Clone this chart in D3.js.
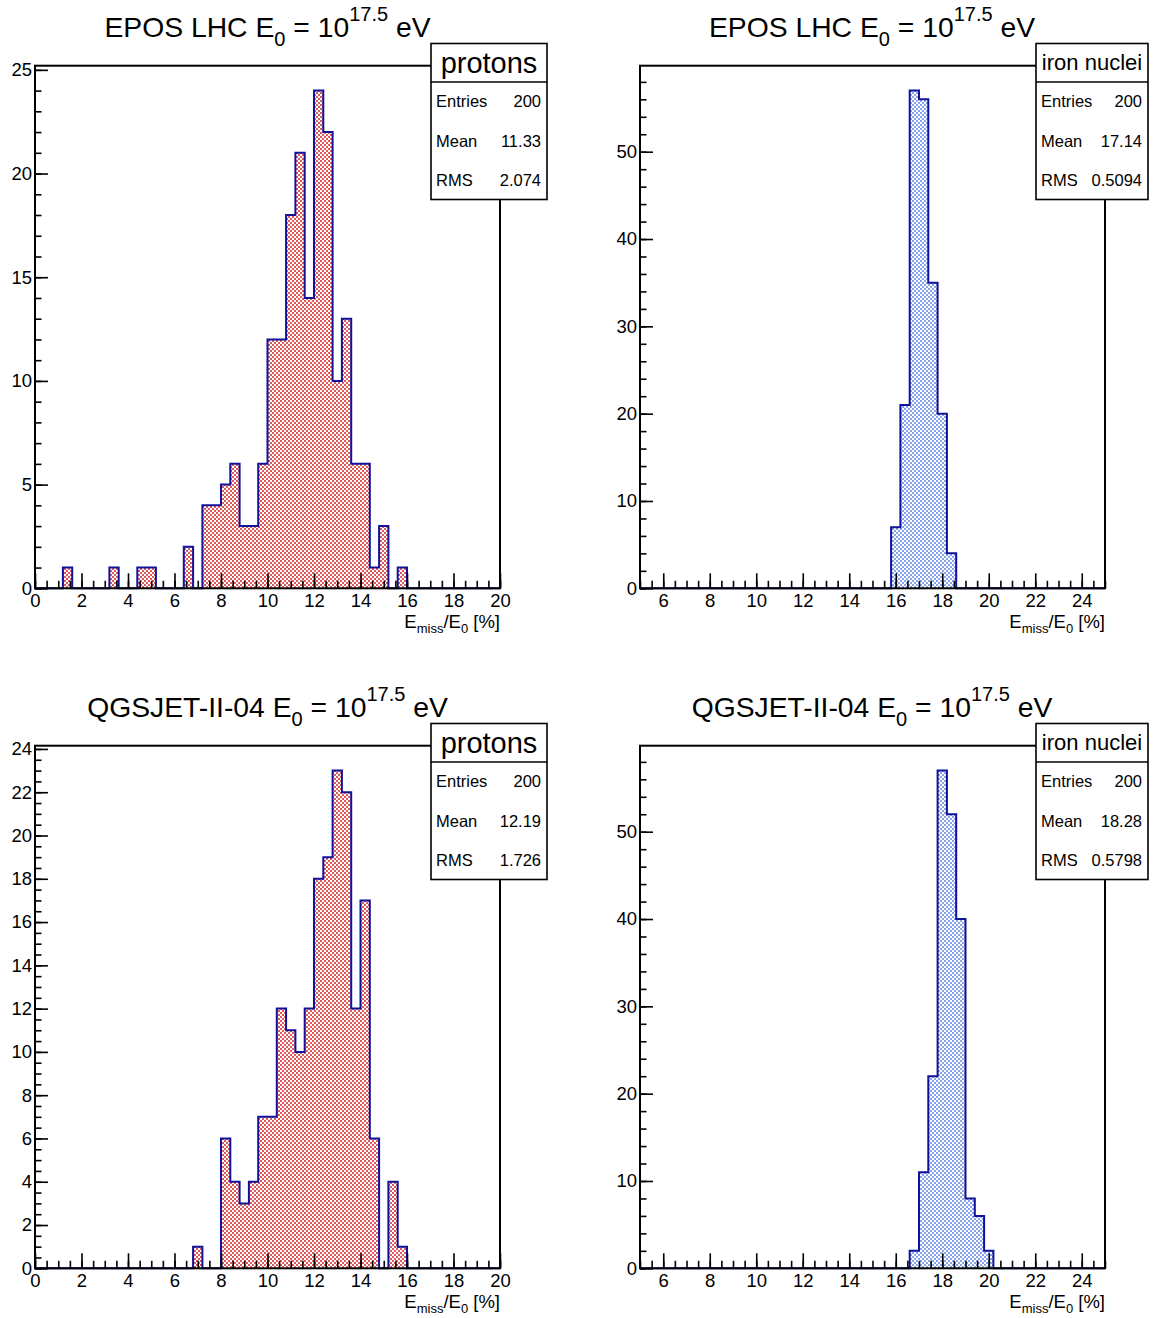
<!DOCTYPE html>
<html>
<head>
<meta charset="utf-8">
<script src="https://cdn.jsdelivr.net/npm/d3@7"></script>
<style>
  body { margin: 0; background: #fff; }
  svg { font-family: "Liberation Sans", Arial, sans-serif; }
</style>
</head>
<body>
<script>
// histogram bins are 0.4 % wide; protons start at 0, iron at 5
var binWidth = 0.4;
var protonRange = [0, 20];
var ironRange = [5, 25];

var eposProtonCounts = [0,0,0,1,0, 0,0,0,1,0, 0,1,1,0,0, 0,2,0,4,4,
                        5,6,3,3,6, 12,12,18,21,14, 24,22,10,13,6, 6,1,3,0,1,
                        0,0,0,0,0, 0,0,0,0,0];
var eposIronCounts = [0,0,0,0,0, 0,0,0,0,0, 0,0,0,0,0, 0,0,0,0,0,
                      0,0,0,0,0, 0,0,7,21,57, 56,35,20,4,0, 0,0,0,0,0,
                      0,0,0,0,0, 0,0,0,0,0];
var qgsProtonCounts = [0,0,0,0,0, 0,0,0,0,0, 0,0,0,0,0, 0,0,1,0,0,
                       6,4,3,4,7, 7,12,11,10,12, 18,19,23,22,12, 17,6,0,4,1,
                       0,0,0,0,0, 0,0,0,0,0];
var qgsIronCounts = [0,0,0,0,0, 0,0,0,0,0, 0,0,0,0,0, 0,0,0,0,0,
                     0,0,0,0,0, 0,0,0,0,2, 11,22,57,52,40, 8,6,2,0,0,
                     0,0,0,0,0, 0,0,0,0,0];

var models = ["EPOS LHC", "EPOS LHC", "QGSJET-II-04", "QGSJET-II-04"];
var particles = ["protons", "iron nuclei", "protons", "iron nuclei"];
var statEntries = ["200", "200", "200", "200"];
var statMean = ["11.33", "17.14", "12.19", "18.28"];
var statRMS = ["2.074", "0.5094", "1.726", "0.5798"];

var protonXTicks = [0, 2, 4, 6, 8, 10, 12, 14, 16, 18, 20];
var ironXTicks = [6, 8, 10, 12, 14, 16, 18, 20, 22, 24];
var eposProtonYTicks = [0, 5, 10, 15, 20, 25];
var qgsProtonYTicks = [0, 2, 4, 6, 8, 10, 12, 14, 16, 18, 20, 22, 24];
var ironYTicks = [0, 10, 20, 30, 40, 50];

function main() {
    var width = 1162, height = 1318;
    var svg = d3.select("body").append("svg")
        .attr("width", width).attr("height", height);

    var defs = svg.append("defs");
    function checker(id, col) {
        var p = defs.append("pattern").attr("id", id)
            .attr("patternUnits", "userSpaceOnUse")
            .attr("width", 4).attr("height", 4);
        p.append("rect").attr("width", 4).attr("height", 4).attr("fill", "#fff");
        p.append("rect").attr("width", 2).attr("height", 2).attr("fill", col);
        p.append("rect").attr("x", 2).attr("y", 2).attr("width", 2).attr("height", 2).attr("fill", col);
    }
    checker("redChk", "#de5a5a");
    checker("blueChk", "#8aa4ea");

    var panels = [
        { counts: eposProtonCounts, range: protonRange, xt: protonXTicks, yt: eposProtonYTicks, yMinor: 1, fill: "redChk" },
        { counts: eposIronCounts, range: ironRange, xt: ironXTicks, yt: ironYTicks, yMinor: 2, fill: "blueChk" },
        { counts: qgsProtonCounts, range: protonRange, xt: protonXTicks, yt: qgsProtonYTicks, yMinor: 0.5, fill: "redChk" },
        { counts: qgsIronCounts, range: ironRange, xt: ironXTicks, yt: ironYTicks, yMinor: 2, fill: "blueChk" }
    ];

    var colX = [[35, 500], [640, 1105]];
    var boxX = [[431, 547], [1036, 1148]];
    var titleX = [267.5, 872];
    var rowOff = 680;

    panels.forEach(function(p, i) {
        var col = i % 2, row = Math.floor(i / 2);
        var off = row * rowOff;
        var top = 65.7 + off, bottom = 588.3 + off;
        var left = colX[col][0], right = colX[col][1];
        var g = svg.append("g");

        var x = d3.scaleLinear().domain(p.range).range([left, right]);
        var ymax = d3.max(p.counts) * 1.05;
        var y = d3.scaleLinear().domain([0, ymax]).range([bottom, top]);

        // histogram steps
        var pts = [];
        p.counts.forEach(function(c, k) {
            var lo = p.range[0] + k * binWidth;
            pts.push([lo, c]);
            pts.push([lo + binWidth, c]);
        });
        var area = d3.area()
            .x(function(d) { return x(d[0]); })
            .y0(y(0))
            .y1(function(d) { return y(d[1]); });
        var line = d3.line()
            .x(function(d) { return x(d[0]); })
            .y(function(d) { return y(d[1]); });
        g.append("path").datum(pts).attr("d", area).attr("fill", "url(#" + p.fill + ")");
        g.append("path").datum(pts).attr("d", line)
            .attr("fill", "none").attr("stroke", "#10129a").attr("stroke-width", 2);

        // axes, ticks pointing inward
        var minorX = d3.range(p.range[0], p.range[1] + 0.001, 0.5);
        var minorY = d3.range(0, ymax, p.yMinor);

        var xa = g.append("g").attr("transform", "translate(0," + bottom + ")");
        xa.call(d3.axisBottom(x).tickValues(minorX).tickSize(-7.5).tickFormat(""));
        xa.append("g").call(d3.axisBottom(x).tickValues(p.xt).tickSize(-15).tickPadding(6));

        var ya = g.append("g").attr("transform", "translate(" + left + ",0)");
        ya.call(d3.axisLeft(y).tickValues(minorY).tickSize(-6.5).tickFormat(""));
        ya.append("g").call(d3.axisLeft(y).tickValues(p.yt).tickSize(-13).tickPadding(3));

        g.selectAll(".domain").remove();
        g.selectAll(".tick line").attr("stroke", "#000").attr("stroke-width", 1.6);
        g.selectAll(".tick text").attr("font-size", "18.5px").attr("fill", "#000")
            .attr("font-family", "'Liberation Sans', Arial, sans-serif");

        // frame
        g.append("rect").attr("x", left).attr("y", top)
            .attr("width", right - left).attr("height", bottom - top)
            .attr("fill", "none").attr("stroke", "#000").attr("stroke-width", 2);

        // title
        var t = g.append("text").attr("x", titleX[col]).attr("y", 37 + off)
            .attr("text-anchor", "middle").attr("font-size", "28.3px").attr("fill", "#000");
        t.append("tspan").text(models[i] + " E");
        t.append("tspan").attr("dy", 9).attr("font-size", "20px").text("0");
        t.append("tspan").attr("dy", -9).text(" = 10");
        t.append("tspan").attr("dy", -16).attr("font-size", "20px").text("17.5");
        t.append("tspan").attr("dy", 16).text(" eV");

        // x title
        var xt = g.append("text").attr("x", right).attr("y", bottom + 40)
            .attr("text-anchor", "end").attr("font-size", "18.5px").attr("fill", "#000");
        xt.append("tspan").text("E");
        xt.append("tspan").attr("dy", 5).attr("font-size", "13px").text("miss");
        xt.append("tspan").attr("dy", -5).text("/E");
        xt.append("tspan").attr("dy", 5).attr("font-size", "13px").text("0");
        xt.append("tspan").attr("dy", -5).text(" [%]");

        // stats box
        var bx0 = boxX[col][0], bx1 = boxX[col][1];
        var by0 = 43.5 + off, byDiv = 82 + off, by1 = 199.5 + off;
        g.append("rect").attr("x", bx0).attr("y", by0)
            .attr("width", bx1 - bx0).attr("height", by1 - by0)
            .attr("fill", "#fff").attr("stroke", "#000").attr("stroke-width", 1.6);
        g.append("line").attr("x1", bx0).attr("x2", bx1).attr("y1", byDiv).attr("y2", byDiv)
            .attr("stroke", "#000").attr("stroke-width", 1.6);
        g.append("text").attr("x", (bx0 + bx1) / 2).attr("y", (by0 + byDiv) / 2)
            .attr("dy", "0.35em").attr("text-anchor", "middle")
            .attr("font-size", particles[i] === "protons" ? "29px" : "22px")
            .text(particles[i]);
        var rowH = (by1 - byDiv) / 3;
        var labels = ["Entries", "Mean", "RMS"];
        var vals = [statEntries[i], statMean[i], statRMS[i]];
        labels.forEach(function(lb, r) {
            var yy = byDiv + rowH * (r + 0.5);
            g.append("text").attr("x", bx0 + 5).attr("y", yy).attr("dy", "0.35em")
                .attr("font-size", "16.5px").text(lb);
            g.append("text").attr("x", bx1 - 6).attr("y", yy).attr("dy", "0.35em")
                .attr("text-anchor", "end").attr("font-size", "16.5px").text(vals[r]);
        });
    });
}

window.onload = main;
</script>
</body>
</html>
